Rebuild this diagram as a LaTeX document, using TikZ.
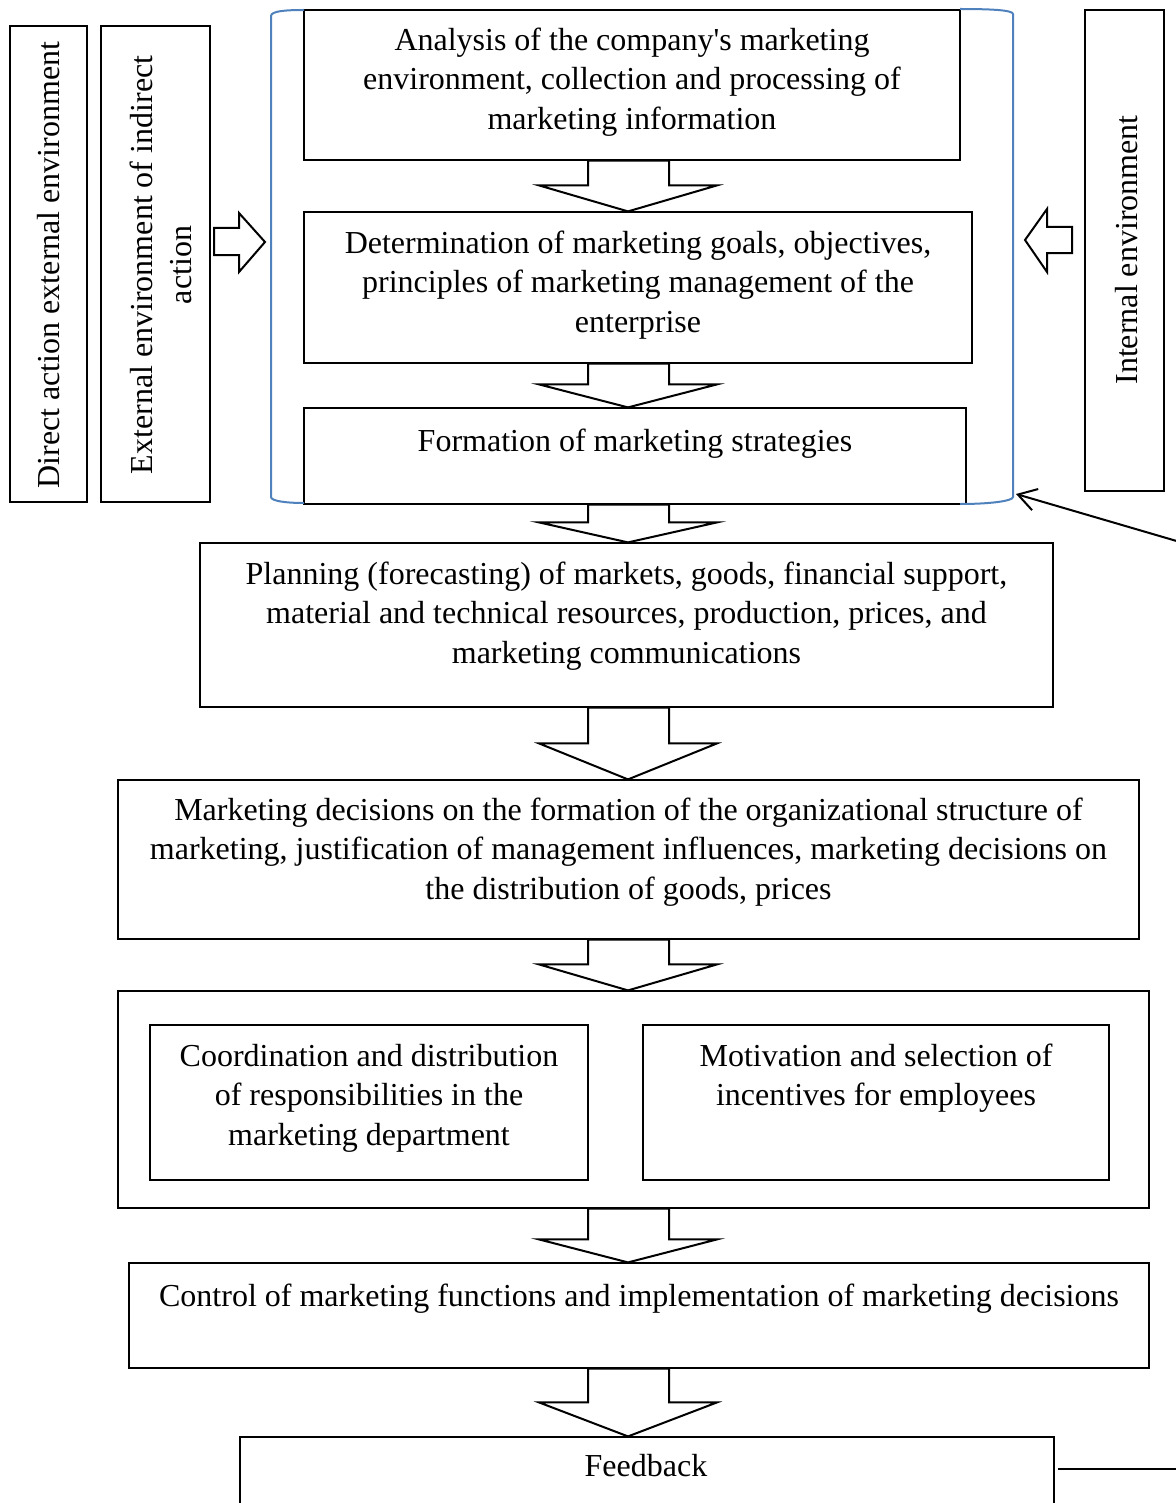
\documentclass[tikz,border=0pt]{standalone}
\usepackage{fontspec}
\setmainfont{Liberation Serif}
\usetikzlibrary{arrows.meta,calc,fit}
\definecolor{bracketblue}{RGB}{79,129,189}
\tikzset{
  box/.style={draw=black, line width=0.6pt, inner sep=0pt},
  boxtext/.style={align=center, inner sep=0pt, anchor=north,
    font=\fontsize{16}{19.75}\selectfont},
  sidetext/.style={align=center, inner sep=0pt, rotate=90,
    font=\fontsize{16}{19.75}\selectfont},
  blockarrow/.style={draw=black, line width=1pt, fill=white, line join=miter},
  bracketline/.style={draw=bracketblue, line width=1pt},
  loopline/.style={draw=black, line width=1pt},
}
% hollow block arrow pointing down from node #1 to node #2, head depth #3
\newcommand\hollowdown[3]{%
  \draw[blockarrow] (588,0 |- #1.south) -- (669,0 |- #1.south)
    -- ($(669,0 |- #2.north)+(0,-#3)$) -- ($(717,0 |- #2.north)+(0,-#3)$)
    -- (628,0 |- #2.north)
    -- ($(539,0 |- #2.north)+(0,-#3)$) -- ($(588,0 |- #2.north)+(0,-#3)$)
    -- cycle;}
\begin{document}
\begin{tikzpicture}[x=0.5pt, y=-0.5pt]
\useasboundingbox (0,0) rectangle (1176,1503);
\clip (0,0) rectangle (1176,1503);

% side environments
\node[box, fit={(10,26) (87,502)}] (direct) {};
\node[sidetext] (directT) at (49,265) {Direct action external environment};
\node[box, fit={(101,26) (210,502)}] (indirect) {};
\node[sidetext] (indirectT) at (161,265) {External environment of indirect\\action};
\node[box, fit={(1085,10) (1164,491)}] (internal) {};
\node[sidetext] (internalT) at (1127,250) {Internal environment};

% strategic block
\node[box, fit={(304,10) (960,160)}] (analysis) {};
\node[boxtext] (analysisT) at ([yshift=-9pt]analysis.north)
  {Analysis of the company\textquotesingle s marketing\\environment, collection and processing of\\marketing information};
\node[box, fit={(304,212) (972,363)}] (goals) {};
\node[boxtext] (goalsT) at ([yshift=-9.5pt]goals.north)
  {Determination of marketing goals, objectives,\\principles of marketing management of the\\enterprise};
\node[box, fit={(304,408) (966,504)}] (strategy) {};
\node[boxtext] (strategyT) at ([yshift=-10.5pt]strategy.north)
  {Formation of marketing strategies};

% bracket around the strategic block
\draw[bracketline] (304,10) .. controls (286,10) and (271,11) .. (271,16)
  -- (271,497) .. controls (271,501) and (286,503) .. (304,503);
\draw[bracketline] (960,9) .. controls (990,9) and (1013,10) .. (1013,14)
  -- (1013,497) .. controls (1013,501) and (990,504) .. (960,504);

% influences of the environments
\draw[blockarrow] (214,228) -- (239,228) -- (239,213) -- (265,242)
  -- (239,272) -- (239,255) -- (214,255) -- cycle;
\draw[blockarrow] (1072,227) -- (1047,227) -- (1047,209) -- (1025,240)
  -- (1047,272) -- (1047,253) -- (1072,253) -- cycle;

% planning and decisions
\node[box, fit={(200,543) (1053,707)}] (planning) {};
\node[boxtext] (planningT) at ([yshift=-9.5pt]planning.north)
  {Planning (forecasting) of markets, goods, financial support,\\material and technical resources, production, prices, and\\marketing communications};
\node[box, fit={(118,780) (1139,939)}] (decisions) {};
\node[boxtext] (decisionsT) at ([yshift=-9pt]decisions.north)
  {Marketing decisions on the formation of the organizational structure of\\marketing, justification of management influences, marketing decisions on\\the distribution of goods, prices};

% organisation block
\node[box, fit={(118,991) (1149,1208)}] (organise) {};
\node[box, fit={(150,1025) (588,1180)}] (coord) {};
\node[boxtext] (coordT) at ([yshift=-9.5pt]coord.north)
  {Coordination and distribution\\of responsibilities in the\\marketing department};
\node[box, fit={(643,1025) (1109,1180)}] (motiv) {};
\node[boxtext] (motivT) at ([yshift=-9.5pt]motiv.north)
  {Motivation and selection of\\incentives for employees};

% control and feedback
\node[box, fit={(129,1263) (1149,1368)}] (control) {};
\node[boxtext] (controlT) at ([yshift=-10.5pt]control.north)
  {Control of marketing functions and implementation of marketing decisions};
\node[box, fit={(240,1437) (1054,1510)}] (feedback) {};
\node[boxtext] (feedbackT) at (646,1454) {Feedback};

% flow between stages
\hollowdown{analysis}{goals}{26}
\hollowdown{goals}{strategy}{23}
\hollowdown{strategy}{planning}{20}
\hollowdown{planning}{decisions}{36}
\hollowdown{decisions}{organise}{26}
\hollowdown{organise}{control}{23}
\hollowdown{control}{feedback}{34}

% feedback loop
\coordinate (fbout) at (1058,1469);
\coordinate (fbend) at (1180,1469);
\draw[loopline] (fbout) -- (fbend);
\coordinate (loopin) at (1180,542);
\coordinate (brk) at (1016,494);
\draw[loopline, -{Straight Barb[length=9pt, width=11pt]}] (loopin) -- (brk);
\end{tikzpicture}
\end{document}
